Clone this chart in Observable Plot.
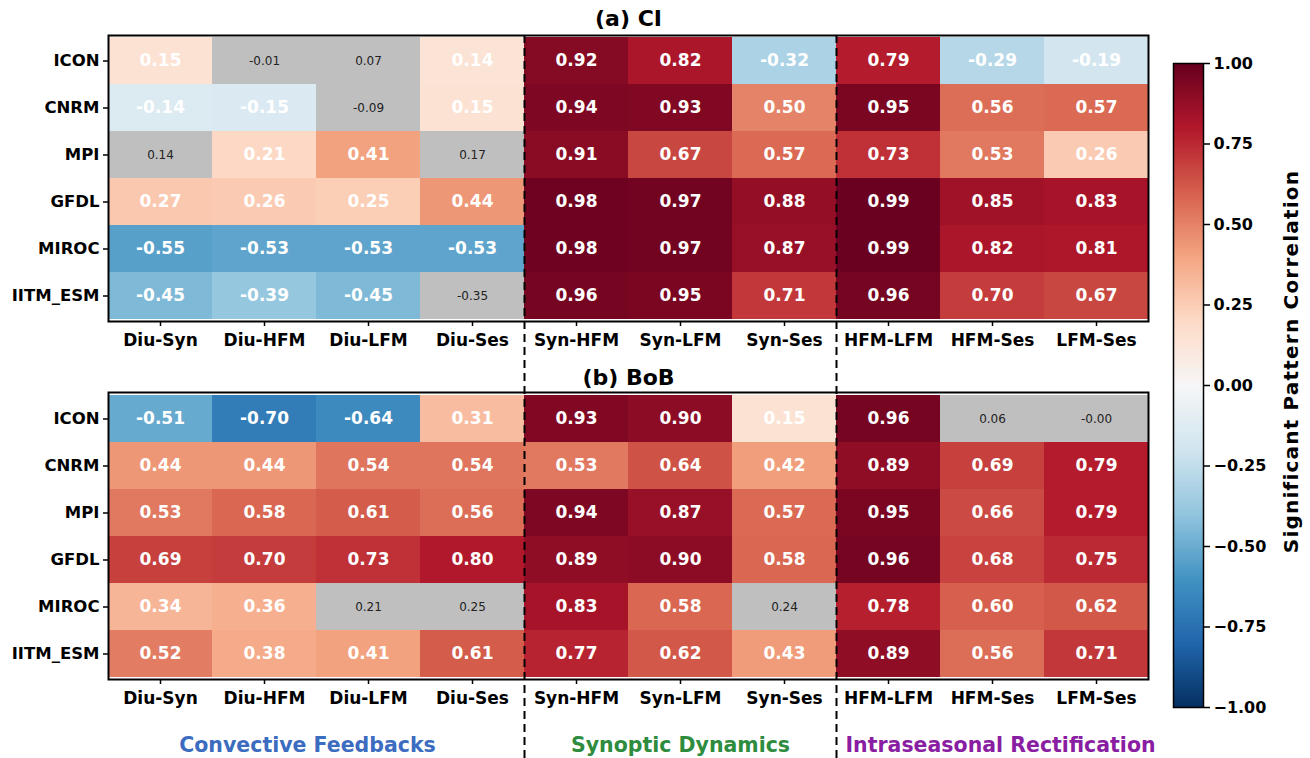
<!DOCTYPE html>
<html><head><meta charset="utf-8">
<script src="https://cdn.jsdelivr.net/npm/d3@7"></script>
<script src="https://cdn.jsdelivr.net/npm/@observablehq/plot@0.6"></script>
<style>
html,body{margin:0;padding:0;background:#fff;}
#root{position:relative;width:1310px;height:758px;overflow:hidden;font-family:"DejaVu Sans",sans-serif;}
#root > div{position:absolute;}
svg{overflow:visible;}
#cb g[aria-label="text"] text{letter-spacing:1.2px;}
</style></head><body><div id="root"></div>
<script>
// ---------------- data ----------------
const models = ["ICON", "CNRM", "MPI", "GFDL", "MIROC", "IITM_ESM"];
const pairs = ["Diu-Syn", "Diu-HFM", "Diu-LFM", "Diu-Ses", "Syn-HFM", "Syn-LFM", "Syn-Ses", "HFM-LFM", "HFM-Ses", "LFM-Ses"];

const ciValues = [
  [0.15, -0.01, 0.07, 0.14, 0.92, 0.82, -0.32, 0.79, -0.29, -0.19],
  [-0.14, -0.15, -0.09, 0.15, 0.94, 0.93, 0.50, 0.95, 0.56, 0.57],
  [0.14, 0.21, 0.41, 0.17, 0.91, 0.67, 0.57, 0.73, 0.53, 0.26],
  [0.27, 0.26, 0.25, 0.44, 0.98, 0.97, 0.88, 0.99, 0.85, 0.83],
  [-0.55, -0.53, -0.53, -0.53, 0.98, 0.97, 0.87, 0.99, 0.82, 0.81],
  [-0.45, -0.39, -0.45, -0.35, 0.96, 0.95, 0.71, 0.96, 0.70, 0.67]
];
const ciNonSig = [["ICON", "Diu-HFM"], ["ICON", "Diu-LFM"], ["CNRM", "Diu-LFM"], ["MPI", "Diu-Syn"], ["MPI", "Diu-Ses"], ["IITM_ESM", "Diu-Ses"]];

const bobValues = [
  [-0.51, -0.70, -0.64, 0.31, 0.93, 0.90, 0.15, 0.96, 0.06, -0.004],
  [0.44, 0.44, 0.54, 0.54, 0.53, 0.64, 0.42, 0.89, 0.69, 0.79],
  [0.53, 0.58, 0.61, 0.56, 0.94, 0.87, 0.57, 0.95, 0.66, 0.79],
  [0.69, 0.70, 0.73, 0.80, 0.89, 0.90, 0.58, 0.96, 0.68, 0.75],
  [0.34, 0.36, 0.21, 0.25, 0.83, 0.58, 0.24, 0.78, 0.60, 0.62],
  [0.52, 0.38, 0.41, 0.61, 0.77, 0.62, 0.43, 0.89, 0.56, 0.71]
];
const bobNonSig = [["ICON", "HFM-Ses"], ["ICON", "LFM-Ses"], ["MIROC", "Diu-LFM"], ["MIROC", "Diu-Ses"], ["MIROC", "Syn-Ses"]];

const groupNames = ["Convective Feedbacks", "Synoptic Dynamics", "Intraseasonal Rectification"];
const groupSizes = [4, 3, 3];
const colorbarTicks = [-1, -0.75, -0.5, -0.25, 0, 0.25, 0.5, 0.75, 1];
const colorbarLabel = "Significant Pattern Correlation";
const panelTitles = ["(a) CI", "(b) BoB"];

// ---------------- styles / layout ----------------
const groupColors = ["#3b6cc0", "#2e8c3e", "#8a1ea3"];
const groupNudge = [-9, 0, 8];
const grayFill = "#bfbfbf";
const FONT = "DejaVu Sans";
const rdbuR = d3.piecewise(d3.interpolateRgb, ["#053061", "#2166ac", "#4393c3", "#92c5de", "#d1e5f0", "#f7f7f7", "#fddbc7", "#f4a582", "#d6604d", "#b2182b", "#67001f"]);
const colorCfg = {type: "linear", domain: [-1, 1], interpolate: rdbuR};

const frameLeft = 108, frameRight = 1148, plotWidth = 1160;
const cellW = (frameRight - frameLeft) / pairs.length;

const dividers = [];
let acc = 0;
const groupMid = [];
groupSizes.forEach((n, i) => {
  if (i > 0) dividers.push(pairs[acc]);
  const mid = acc + (n - 1) / 2;
  groupMid.push({col: pairs[Math.floor(mid)], dx: (mid - Math.floor(mid)) * cellW + groupNudge[i]});
  acc += n;
});

function records(values, nonSig) {
  return models.flatMap((m, i) => pairs.map((p, j) => ({
    model: m, pair: p, value: values[i][j],
    sig: !nonSig.some(([a, b]) => a === m && b === p)
  })));
}

function heatmap({values, nonSig, title, height, marginTop, marginBottom, groups}) {
  const data = records(values, nonSig);
  const sig = data.filter(d => d.sig), ns = data.filter(d => !d.sig);
  const marks = [
    Plot.cell(sig, {x: "pair", y: "model", fill: "value", inset: 0, shapeRendering: "crispEdges"}),
    Plot.cell(ns, {x: "pair", y: "model", fill: grayFill, inset: 0, shapeRendering: "crispEdges"}),
    Plot.text(sig, {x: "pair", y: "model", text: d => d.value.toFixed(2), fill: "white", fontSize: 17, fontWeight: "bold"}),
    Plot.text(ns, {x: "pair", y: "model", text: d => d.value.toFixed(2), fill: "#222", fontSize: 12, fontWeight: "normal"}),
    Plot.frame({stroke: "black", strokeWidth: 2}),
    Plot.axisX({anchor: "bottom", tickSize: 5, tickPadding: 7, fontSize: 17, fontWeight: "bold", label: null, strokeWidth: 1.5}),
    Plot.axisY({anchor: "left", tickSize: 5, tickPadding: 4, fontSize: 16.5, fontWeight: "bold", label: null, strokeWidth: 1.5}),
    Plot.ruleX(dividers, {dx: -cellW / 2, insetTop: groups ? -marginTop : 0, insetBottom: -marginBottom, stroke: "black", strokeWidth: 2, strokeDasharray: "8,5"}),
    Plot.text([title], {frameAnchor: "top", lineAnchor: "middle", dy: groups ? -15 : -17, fontSize: 22, fontWeight: "bold", fill: "black"})
  ];
  if (groups) {
    groupNames.forEach((g, i) => {
      marks.push(Plot.text([g], {x: () => groupMid[i].col, text: d => d, frameAnchor: "bottom", lineAnchor: "middle", dx: groupMid[i].dx, dy: 66, fontSize: 20.5, fontWeight: "bold", fill: groupColors[i]}));
    });
  }
  return Plot.plot({
    width: plotWidth, height,
    marginLeft: frameLeft, marginRight: plotWidth - frameRight,
    marginTop, marginBottom,
    x: {domain: pairs, padding: 0},
    y: {domain: models, padding: 0},
    color: colorCfg,
    style: {fontFamily: FONT, color: "black", background: "transparent", overflow: "visible"},
    marks
  });
}

function colorbar() {
  return Plot.plot({
    width: 150, height: 700,
    marginLeft: 13, marginRight: 107, marginTop: 23, marginBottom: 33,
    x: {domain: [0, 1], axis: null},
    y: {domain: [-1, 1]},
    color: colorCfg,
    style: {fontFamily: FONT, color: "black", background: "transparent", overflow: "visible"},
    marks: [
      Plot.raster({fill: (x, y) => y, x1: 0, x2: 1, y1: -1, y2: 1, width: 1, height: 256}),
      Plot.frame({stroke: "black", strokeWidth: 1.5}),
      Plot.axisY({anchor: "right", ticks: colorbarTicks, tickFormat: d3.format(".2f"), tickSize: 6, tickPadding: 4, fontSize: 16, fontWeight: "bold", label: null, strokeWidth: 1.5}),
      Plot.text([colorbarLabel], {frameAnchor: "right", textAnchor: "middle", lineAnchor: "middle", dx: 88, dy: -24, rotate: -90, fontSize: 20, fontWeight: "bold", fill: "black"})
    ]
  });
}

const root = document.getElementById("root");
function place(el, left, top, id) {
  const d = document.createElement("div");
  d.style.left = left + "px"; d.style.top = top + "px";
  if (id) d.id = id;
  d.appendChild(el); root.appendChild(d);
}
place(heatmap({values: ciValues, nonSig: ciNonSig, title: panelTitles[0], height: 360, marginTop: 35, marginBottom: 39, groups: false}), 0, 0);
place(heatmap({values: bobValues, nonSig: bobNonSig, title: panelTitles[1], height: 398, marginTop: 32, marginBottom: 79, groups: true}), 0, 360);
place(colorbar(), 1160, 40, "cb");
</script>
</body></html>
